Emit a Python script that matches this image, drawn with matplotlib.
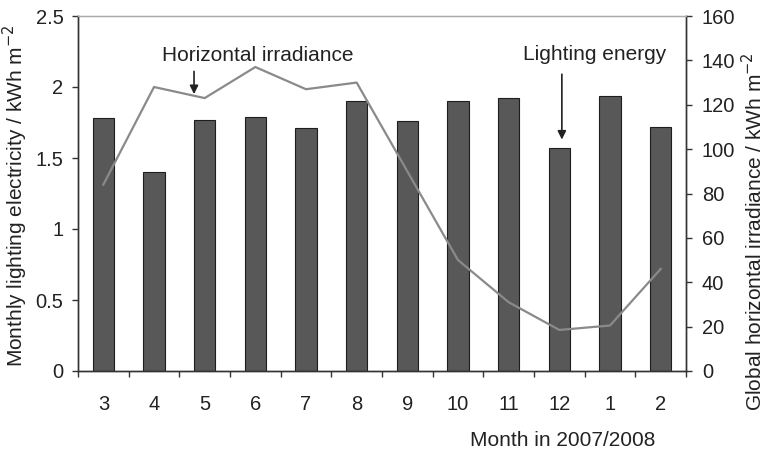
import matplotlib
matplotlib.use("Agg")
import matplotlib.pyplot as plt
import numpy as np

plt.rcParams['font.family'] = ['Liberation Sans', 'DejaVu Sans']

months = ['3', '4', '5', '6', '7', '8', '9', '10', '11', '12', '1', '2']
lighting = [1.78, 1.40, 1.77, 1.79, 1.71, 1.90, 1.76, 1.90, 1.92, 1.57, 1.94, 1.72]
irradiance = [84, 128, 123, 137, 127, 130, 90, 50, 31, 18.5, 20.5, 46]

x = np.arange(len(months))
W, H = 767, 453

fig = plt.figure(figsize=(W / 100, H / 100), dpi=100)
ax = fig.add_axes([78 / W, 82 / H, 608 / W, 355 / H])

ax.bar(x, lighting, width=0.42, color='#585858', edgecolor='#1e1e1e', linewidth=0.8, zorder=2)
ax.set_xlim(-0.5, len(months) - 0.5)
ax.set_ylim(0, 2.5)
ax.set_yticks([0, 0.5, 1, 1.5, 2, 2.5])
ax.set_yticklabels(['0', '0.5', '1', '1.5', '2', '2.5'])

ax.set_xticks(x)
ax.set_xticklabels(months)
ax.set_xticks(np.arange(-0.5, len(months)), minor=True)
ax.tick_params(axis='x', which='major', length=0, pad=17, labelsize=14.5, labelcolor='#222222')
ax.tick_params(axis='x', which='minor', length=4.5, width=1, color='#333333', direction='out')
ax.tick_params(axis='y', length=4.5, width=1, color='#333333', labelsize=14.5, pad=6,
               labelcolor='#222222')

ax2 = ax.twinx()
ax2.plot(x, irradiance, color='#8a8a8a', linewidth=1.6, zorder=3)
ax2.set_ylim(0, 160)
ax2.set_yticks(range(0, 161, 20))
ax2.tick_params(axis='y', length=4.5, width=1, color='#333333', labelsize=14.5, pad=7,
                labelcolor='#222222')

for a in (ax, ax2):
    for side in ('left', 'right', 'bottom'):
        a.spines[side].set_color('#333333')
        a.spines[side].set_linewidth(1.0)
    a.spines['top'].set_color('#aaaaaa')
    a.spines['top'].set_linewidth(0.9)

fig.text(15 / W, 1 - 196 / H, 'Monthly lighting electricity / kWh m$^{-2}$', fontsize=15,
         rotation=90, ha='center', va='center', color='#222222')
fig.text(754 / W, 1 - 232 / H, 'Global horizontal irradiance / kWh m$^{-2}$', fontsize=15,
         rotation=90, ha='center', va='center', color='#222222')
fig.text(563 / W, 1 - 440 / H, 'Month in 2007/2008', fontsize=15, ha='center', va='center',
         color='#222222')

arrow = dict(arrowstyle='-|>,head_length=0.5,head_width=0.25', color='#222222', lw=1.2,
             shrinkA=0, shrinkB=0)
ax.text(3.05, 2.225, 'Horizontal irradiance', fontsize=15, ha='center', va='center', color='#222222')
ax.annotate('', xy=(1.79, 1.95), xytext=(1.79, 2.11), arrowprops=arrow, zorder=5)
ax.text(9.70, 2.232, 'Lighting energy', fontsize=15, ha='center', va='center', color='#222222')
ax.annotate('', xy=(9.05, 1.63), xytext=(9.05, 2.09), arrowprops=arrow, zorder=5)

fig.savefig('out.png', dpi=100)
